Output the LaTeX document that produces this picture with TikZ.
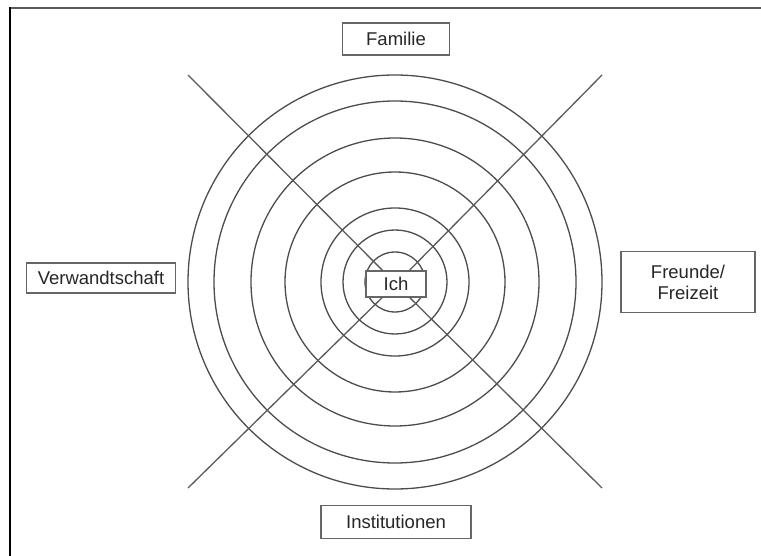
\documentclass[tikz,border=0pt]{standalone}
\usepackage{fontspec}
\setmainfont{Liberation Sans}
\begin{document}
\begin{tikzpicture}[x=1pt,y=-1pt,
  ring/.style={draw=black!70,line width=1.3pt},
  spoke/.style={draw=black!65,line width=1.3pt},
  labelbox/.style={draw=black!60,line width=1.4pt,fill=white,inner sep=0pt,
    font=\fontsize{18.5}{21}\selectfont,text=black!85,align=center}]
\useasboundingbox (0,0) rectangle (761,556);
% frame
\draw[black!65,line width=1.2pt] (10,8) -- (761,8);
\draw[black,line width=2.8pt] (10,7.4) -- (10,556);
% rings
\coordinate (c) at (395,282);
\foreach \r in {207,181,144,110,74,52,30}
  \draw[ring] (c) circle[radius=\r];
% centre node
\node[labelbox,minimum width=60pt,minimum height=26pt] (ich) at (396,284) {Ich};
% spokes
\coordinate (tl) at (188,75);
\coordinate (tr) at (602,75);
\coordinate (bl) at (188,488);
\coordinate (br) at (602,488);
\foreach \p in {tl,tr,bl,br}
  \draw[spoke] (\p) -- (ich);
% labels
\node[labelbox,minimum width=107pt,minimum height=32pt] (fam) at (396,39) {Familie};
\node[labelbox,minimum width=134pt,minimum height=61pt] (fre) at (688,282) {Freunde/\\Freizeit};
\node[labelbox,minimum width=149pt,minimum height=30pt] (ver) at (101,278) {Verwandtschaft};
\node[labelbox,minimum width=150pt,minimum height=33pt] (ins) at (396,522) {Institutionen};
\end{tikzpicture}
\end{document}
